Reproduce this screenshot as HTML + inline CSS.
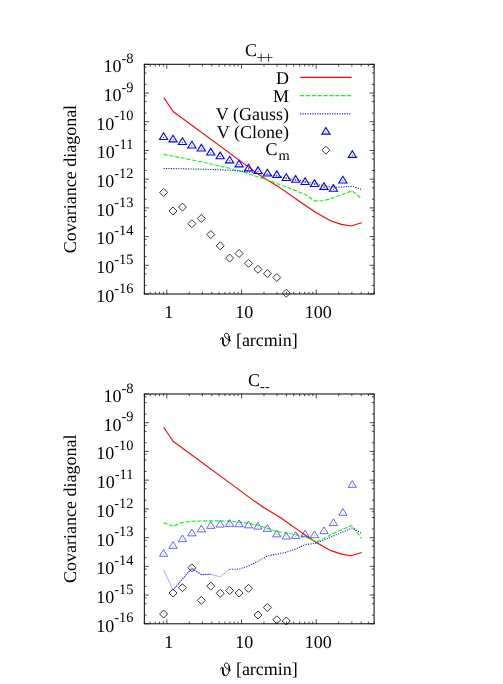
<!DOCTYPE html>
<html><head><meta charset="utf-8"><title>Covariance diagonal</title>
<style>html,body{margin:0;padding:0;background:#fff}svg{display:block;will-change:transform}text{text-rendering:geometricPrecision;font-family:"Liberation Serif",serif;font-size:18px;fill:#000}</style></head>
<body>
<svg width="503" height="684" viewBox="0 0 503 684">
<rect width="503" height="684" fill="#fff"/>
<g>
<path d="M163.7 97.5L173.1 111.5L230 153.4L255 171.9L264.5 178.3L279.9 187.6L300 201.7L304.7 205L315.9 212.5L329.6 220.3L331.8 221.2L341.4 224.4L350.9 226L361.7 222.8" fill="none" stroke="#ff0000" stroke-width="1.15" stroke-linejoin="round"/>
<path d="M163.6 154.4L173.03 156.2L182.47 158L191.91 159.9L201.34 161.9L210.78 164L220.21 166.1L229.64 168.3L239.08 170.8L248.51 173.8L257.95 176.9L267.38 179.9L276.82 183.5L286.25 187L295.69 190.6L305.12 194.4L314.56 200.9L324 200.7L333.43 197.8L342.87 194.2L352.3 190.8L361.74 198.8" fill="none" stroke="#00ff00" stroke-width="1.15" stroke-dasharray="3.9 1.95"/>
<path d="M163.6 168.5L173.03 168.6L182.47 168.8L191.91 169L201.34 169.2L210.78 169.5L220.21 169.8L229.64 170.3L239.08 171L248.51 172L257.95 173.4L267.38 174.8L276.82 176.2L286.25 178L295.69 179.8L305.12 181.5L314.56 183.5L324 186L333.43 187.3L342.87 187L352.3 186.2L361.74 189.5" fill="none" stroke="#0000ff" stroke-width="1.1" stroke-dasharray="1.05 1.4"/>
<path d="M163.6 132.81l-4.1 6.64h8.2z" fill="none" stroke="#0000ff" stroke-width="1.1"/><rect x="163.1" y="136.9" width="1.0" height="1.0" fill="#0000ff"/>
<path d="M173.03 135.21l-4.1 6.64h8.2z" fill="none" stroke="#0000ff" stroke-width="1.1"/><rect x="172.53" y="139.3" width="1.0" height="1.0" fill="#0000ff"/>
<path d="M182.47 137.81l-4.1 6.64h8.2z" fill="none" stroke="#0000ff" stroke-width="1.1"/><rect x="181.97" y="141.9" width="1.0" height="1.0" fill="#0000ff"/>
<path d="M191.91 141.31l-4.1 6.64h8.2z" fill="none" stroke="#0000ff" stroke-width="1.1"/><rect x="191.41" y="145.4" width="1.0" height="1.0" fill="#0000ff"/>
<path d="M201.34 144.41l-4.1 6.64h8.2z" fill="none" stroke="#0000ff" stroke-width="1.1"/><rect x="200.84" y="148.5" width="1.0" height="1.0" fill="#0000ff"/>
<path d="M210.78 148.41l-4.1 6.64h8.2z" fill="none" stroke="#0000ff" stroke-width="1.1"/><rect x="210.28" y="152.5" width="1.0" height="1.0" fill="#0000ff"/>
<path d="M220.21 152.11l-4.1 6.64h8.2z" fill="none" stroke="#0000ff" stroke-width="1.1"/><rect x="219.71" y="156.2" width="1.0" height="1.0" fill="#0000ff"/>
<path d="M229.64 156.21l-4.1 6.64h8.2z" fill="none" stroke="#0000ff" stroke-width="1.1"/><rect x="229.14" y="160.3" width="1.0" height="1.0" fill="#0000ff"/>
<path d="M239.08 160.21l-4.1 6.64h8.2z" fill="none" stroke="#0000ff" stroke-width="1.1"/><rect x="238.58" y="164.3" width="1.0" height="1.0" fill="#0000ff"/>
<path d="M248.51 164.21l-4.1 6.64h8.2z" fill="none" stroke="#0000ff" stroke-width="1.1"/><rect x="248.01" y="168.3" width="1.0" height="1.0" fill="#0000ff"/>
<path d="M257.95 166.91l-4.1 6.64h8.2z" fill="none" stroke="#0000ff" stroke-width="1.1"/><rect x="257.45" y="171" width="1.0" height="1.0" fill="#0000ff"/>
<path d="M267.38 169.31l-4.1 6.64h8.2z" fill="none" stroke="#0000ff" stroke-width="1.1"/><rect x="266.88" y="173.4" width="1.0" height="1.0" fill="#0000ff"/>
<path d="M276.82 170.91l-4.1 6.64h8.2z" fill="none" stroke="#0000ff" stroke-width="1.1"/><rect x="276.32" y="175" width="1.0" height="1.0" fill="#0000ff"/>
<path d="M286.25 173.81l-4.1 6.64h8.2z" fill="none" stroke="#0000ff" stroke-width="1.1"/><rect x="285.75" y="177.9" width="1.0" height="1.0" fill="#0000ff"/>
<path d="M295.69 175.61l-4.1 6.64h8.2z" fill="none" stroke="#0000ff" stroke-width="1.1"/><rect x="295.19" y="179.7" width="1.0" height="1.0" fill="#0000ff"/>
<path d="M305.12 177.81l-4.1 6.64h8.2z" fill="none" stroke="#0000ff" stroke-width="1.1"/><rect x="304.62" y="181.9" width="1.0" height="1.0" fill="#0000ff"/>
<path d="M314.56 179.91l-4.1 6.64h8.2z" fill="none" stroke="#0000ff" stroke-width="1.1"/><rect x="314.06" y="184" width="1.0" height="1.0" fill="#0000ff"/>
<path d="M324 182.71l-4.1 6.64h8.2z" fill="none" stroke="#0000ff" stroke-width="1.1"/><rect x="323.5" y="186.8" width="1.0" height="1.0" fill="#0000ff"/>
<path d="M333.43 184.66l-4.1 6.64h8.2z" fill="none" stroke="#0000ff" stroke-width="1.1"/><rect x="332.93" y="188.75" width="1.0" height="1.0" fill="#0000ff"/>
<path d="M342.87 176.31l-4.1 6.64h8.2z" fill="none" stroke="#0000ff" stroke-width="1.1"/><rect x="342.37" y="180.4" width="1.0" height="1.0" fill="#0000ff"/>
<path d="M352.3 150.71l-4.1 6.64h8.2z" fill="none" stroke="#0000ff" stroke-width="1.1"/><rect x="351.8" y="154.8" width="1.0" height="1.0" fill="#0000ff"/>
<path d="M163.6 188.4l-4 4l4 4l4 -4z" fill="none" stroke="#333" stroke-width="1.0"/><rect x="163.3" y="192.1" width="0.6" height="0.6" fill="#333" opacity="0.6"/>
<path d="M173.03 207l-4 4l4 4l4 -4z" fill="none" stroke="#333" stroke-width="1.0"/><rect x="172.73" y="210.7" width="0.6" height="0.6" fill="#333" opacity="0.6"/>
<path d="M182.47 203.1l-4 4l4 4l4 -4z" fill="none" stroke="#333" stroke-width="1.0"/><rect x="182.17" y="206.8" width="0.6" height="0.6" fill="#333" opacity="0.6"/>
<path d="M191.91 219.7l-4 4l4 4l4 -4z" fill="none" stroke="#333" stroke-width="1.0"/><rect x="191.6" y="223.4" width="0.6" height="0.6" fill="#333" opacity="0.6"/>
<path d="M201.34 214.5l-4 4l4 4l4 -4z" fill="none" stroke="#333" stroke-width="1.0"/><rect x="201.04" y="218.2" width="0.6" height="0.6" fill="#333" opacity="0.6"/>
<path d="M210.78 230.6l-4 4l4 4l4 -4z" fill="none" stroke="#333" stroke-width="1.0"/><rect x="210.47" y="234.3" width="0.6" height="0.6" fill="#333" opacity="0.6"/>
<path d="M220.21 241.8l-4 4l4 4l4 -4z" fill="none" stroke="#333" stroke-width="1.0"/><rect x="219.91" y="245.5" width="0.6" height="0.6" fill="#333" opacity="0.6"/>
<path d="M229.64 254.1l-4 4l4 4l4 -4z" fill="none" stroke="#333" stroke-width="1.0"/><rect x="229.34" y="257.8" width="0.6" height="0.6" fill="#333" opacity="0.6"/>
<path d="M239.08 249.5l-4 4l4 4l4 -4z" fill="none" stroke="#333" stroke-width="1.0"/><rect x="238.78" y="253.2" width="0.6" height="0.6" fill="#333" opacity="0.6"/>
<path d="M248.51 259.3l-4 4l4 4l4 -4z" fill="none" stroke="#333" stroke-width="1.0"/><rect x="248.21" y="263" width="0.6" height="0.6" fill="#333" opacity="0.6"/>
<path d="M257.95 265.3l-4 4l4 4l4 -4z" fill="none" stroke="#333" stroke-width="1.0"/><rect x="257.65" y="269" width="0.6" height="0.6" fill="#333" opacity="0.6"/>
<path d="M267.38 269.6l-4 4l4 4l4 -4z" fill="none" stroke="#333" stroke-width="1.0"/><rect x="267.08" y="273.3" width="0.6" height="0.6" fill="#333" opacity="0.6"/>
<path d="M276.82 273.5l-4 4l4 4l4 -4z" fill="none" stroke="#333" stroke-width="1.0"/><rect x="276.52" y="277.2" width="0.6" height="0.6" fill="#333" opacity="0.6"/>
<path d="M286.25 289.2l-4 4l4 4l4 -4z" fill="none" stroke="#333" stroke-width="1.0"/><rect x="285.95" y="292.9" width="0.6" height="0.6" fill="#333" opacity="0.6"/>
<path d="M300.2 77.4L351.6 77.4" fill="none" stroke="#ff0000" stroke-width="1.15"/>
<path d="M300.2 95.6L351.6 95.6" fill="none" stroke="#00ff00" stroke-width="1.15" stroke-dasharray="3.9 1.95"/>
<path d="M300.2 113.9L351.6 113.9" fill="none" stroke="#0000ff" stroke-width="1.1" stroke-dasharray="1.05 1.4"/>
<path d="M325.9 127.51l-4.1 6.64h8.2z" fill="none" stroke="#0000ff" stroke-width="1.1"/><rect x="325.4" y="131.6" width="1.0" height="1.0" fill="#0000ff"/>
<path d="M325.9 146.2l-4 4l4 4l4 -4z" fill="none" stroke="#333" stroke-width="1.0"/><rect x="325.6" y="149.9" width="0.6" height="0.6" fill="#333" opacity="0.6"/>
<text x="288.9" y="83.7" text-anchor="end">D</text>
<text x="288.9" y="101.6" text-anchor="end">M</text>
<text x="288.9" y="119.9" text-anchor="end">V (Gauss)</text>
<text x="288.9" y="138.1" text-anchor="end">V (Clone)</text>
<text x="289.6" y="154.5" text-anchor="end">C<tspan dx="0.9" dy="5.2" font-size="14.4">m</tspan></text>
<text x="244.9" y="55.8">C<tspan dx="-0.3" dy="6.9" font-size="16.4" letter-spacing="-1.8">++</tspan></text>
<path d="M144.36 64.3h4.5M374.12 64.3h-4.5M144.36 84.37h2.25M374.12 84.37h-2.25M144.36 72.94h2.25M374.12 72.94h-2.25M144.36 67.08h2.25M374.12 67.08h-2.25M144.36 93.01h4.5M374.12 93.01h-4.5M144.36 113.08h2.25M374.12 113.08h-2.25M144.36 101.66h2.25M374.12 101.66h-2.25M144.36 95.8h2.25M374.12 95.8h-2.25M144.36 121.72h4.5M374.12 121.72h-4.5M144.36 141.79h2.25M374.12 141.79h-2.25M144.36 130.37h2.25M374.12 130.37h-2.25M144.36 124.51h2.25M374.12 124.51h-2.25M144.36 150.44h4.5M374.12 150.44h-4.5M144.36 170.51h2.25M374.12 170.51h-2.25M144.36 159.08h2.25M374.12 159.08h-2.25M144.36 153.22h2.25M374.12 153.22h-2.25M144.36 179.15h4.5M374.12 179.15h-4.5M144.36 199.22h2.25M374.12 199.22h-2.25M144.36 187.79h2.25M374.12 187.79h-2.25M144.36 181.93h2.25M374.12 181.93h-2.25M144.36 207.86h4.5M374.12 207.86h-4.5M144.36 227.93h2.25M374.12 227.93h-2.25M144.36 216.51h2.25M374.12 216.51h-2.25M144.36 210.65h2.25M374.12 210.65h-2.25M144.36 236.57h4.5M374.12 236.57h-4.5M144.36 256.64h2.25M374.12 256.64h-2.25M144.36 245.22h2.25M374.12 245.22h-2.25M144.36 239.36h2.25M374.12 239.36h-2.25M144.36 265.29h4.5M374.12 265.29h-4.5M144.36 285.36h2.25M374.12 285.36h-2.25M144.36 273.93h2.25M374.12 273.93h-2.25M144.36 268.07h2.25M374.12 268.07h-2.25M144.36 294h4.5M374.12 294h-4.5M144.31 294v-2.25M144.31 64.3v2.25M150.23 294v-2.25M150.23 64.3v2.25M155.23 294v-2.25M155.23 64.3v2.25M159.56 294v-2.25M159.56 64.3v2.25M163.38 294v-2.25M163.38 64.3v2.25M166.8 294v-4.5M166.8 64.3v4.5M189.29 294v-2.25M189.29 64.3v2.25M202.44 294v-2.25M202.44 64.3v2.25M211.77 294v-2.25M211.77 64.3v2.25M219.01 294v-2.25M219.01 64.3v2.25M224.93 294v-2.25M224.93 64.3v2.25M229.93 294v-2.25M229.93 64.3v2.25M234.26 294v-2.25M234.26 64.3v2.25M238.08 294v-2.25M238.08 64.3v2.25M241.5 294v-4.5M241.5 64.3v4.5M263.99 294v-2.25M263.99 64.3v2.25M277.14 294v-2.25M277.14 64.3v2.25M286.47 294v-2.25M286.47 64.3v2.25M293.71 294v-2.25M293.71 64.3v2.25M299.63 294v-2.25M299.63 64.3v2.25M304.63 294v-2.25M304.63 64.3v2.25M308.96 294v-2.25M308.96 64.3v2.25M312.78 294v-2.25M312.78 64.3v2.25M316.2 294v-4.5M316.2 64.3v4.5M338.69 294v-2.25M338.69 64.3v2.25M351.84 294v-2.25M351.84 64.3v2.25M361.17 294v-2.25M361.17 64.3v2.25M368.41 294v-2.25M368.41 64.3v2.25M374.33 294v-2.25M374.33 64.3v2.25" stroke="#000" stroke-width="0.7" fill="none"/>
<rect x="144.36" y="64.3" width="229.76" height="229.7" fill="none" stroke="#111" stroke-width="1.05"/>
<text x="133.4" y="72.2" text-anchor="end">10<tspan dy="-9.2" font-size="14.4">-8</tspan></text>
<text x="133.4" y="100.91" text-anchor="end">10<tspan dy="-9.2" font-size="14.4">-9</tspan></text>
<text x="133.4" y="129.62" text-anchor="end">10<tspan dy="-9.2" font-size="14.4">-10</tspan></text>
<text x="133.4" y="158.34" text-anchor="end">10<tspan dy="-9.2" font-size="14.4">-11</tspan></text>
<text x="133.4" y="187.05" text-anchor="end">10<tspan dy="-9.2" font-size="14.4">-12</tspan></text>
<text x="133.4" y="215.76" text-anchor="end">10<tspan dy="-9.2" font-size="14.4">-13</tspan></text>
<text x="133.4" y="244.47" text-anchor="end">10<tspan dy="-9.2" font-size="14.4">-14</tspan></text>
<text x="133.4" y="273.19" text-anchor="end">10<tspan dy="-9.2" font-size="14.4">-15</tspan></text>
<text x="133.4" y="301.9" text-anchor="end">10<tspan dy="-9.2" font-size="14.4">-16</tspan></text>
<text x="168.8" y="317.9" text-anchor="middle">1</text>
<text x="244.3" y="317.9" text-anchor="middle">10</text>
<text x="318.2" y="317.9" text-anchor="middle">100</text>
<text x="235.9" y="345.7">[arcmin]</text>
<g transform="translate(0 0)" fill="none" stroke="#000"><path d="M220.4 339.7C220.7 338.3 221.5 337.4 222.5 337.5C223.4 337.7 222.4 341 223.1 343.8C223.6 345.5 224.6 345.9 225.5 345.9C227.7 345.8 229.4 342.5 229.4 338.5C229.4 335.3 228.1 333.2 226.3 333.2C225 333.2 224.4 334.4 224.5 335.6C224.7 338.3 228 339.3 231 340.4" stroke-width="1"/><path d="M222.7 338C223 339.5 222.5 341.6 223.2 344C223.6 345.2 224.3 345.6 225 345.7" stroke-width="1.6"/><path d="M229.2 341.5C229.5 339.5 229.4 337.5 229.1 336" stroke-width="1.35"/></g>
<text transform="translate(75.6 179.1) rotate(-90)" text-anchor="middle" font-size="18.4">Covariance diagonal</text>
</g>
<g>
<path d="M163.7 427.2L173.1 441.2L230 483.1L255 501.6L264.5 508L279.9 517.3L300 531.4L304.7 534.7L315.9 542.2L329.6 550L331.8 550.9L341.4 554.1L350.9 555.7L361.7 552.5" fill="none" stroke="#ff0000" stroke-width="1.15" stroke-linejoin="round"/>
<path d="M163.6 522.8L173.1 526.2L182.6 522.4L192.1 521.3L201.7 521L211.2 520.8L220.4 520.9L229.5 521.1L239.1 522L248.4 523.3L257.7 525.2L267.2 528.2L276.6 531.5L286.2 533L295.5 534.6L305 536.8L316.5 541.9L323.8 538.4L333.3 533.6L342.7 529.2L351.8 525.5L361.5 538.4" fill="none" stroke="#00ff00" stroke-width="1.15" stroke-dasharray="3.9 1.95"/>
<path d="M163.6 569.7L173.03 590.1" fill="none" stroke="#3030ff" stroke-width="0.4"/>
<path d="M173.03 590.1L182.47 579L191.91 568.3L201.34 574.7L210.78 574.2" fill="none" stroke="#0000ff" stroke-width="1.1" stroke-dasharray="1.05 1.4"/>
<path d="M210.78 574.2L220.21 576.9L229.64 569.3" fill="none" stroke="#3030ff" stroke-width="0.4"/>
<path d="M229.64 569.3L239.08 569.2L248.51 566L257.95 561.2L267.38 556L276.82 554.1L286.25 552.2L295.69 549L305.12 544.6L314.56 543.5L324 540L333.43 536L342.87 532L352.3 528L361.74 533.6" fill="none" stroke="#0000ff" stroke-width="1.1" stroke-dasharray="1.05 1.4"/>
<path d="M173.03 590.1L182.47 579L191.91 568.3L201.34 574.7L210.78 574.2" fill="none" stroke="#3030ff" stroke-width="0.4"/>
<path d="M163.6 549.55l-4.15 6.72h8.3z" fill="none" stroke="#2222ff" stroke-width="0.7"/><rect x="163.3" y="553.9" width="0.6" height="0.6" fill="#2222ff"/>
<path d="M173.03 541.65l-4.15 6.72h8.3z" fill="none" stroke="#2222ff" stroke-width="0.7"/><rect x="172.73" y="546" width="0.6" height="0.6" fill="#2222ff"/>
<path d="M182.47 534.95l-4.15 6.72h8.3z" fill="none" stroke="#2222ff" stroke-width="0.7"/><rect x="182.17" y="539.3" width="0.6" height="0.6" fill="#2222ff"/>
<path d="M191.91 529.15l-4.15 6.72h8.3z" fill="none" stroke="#2222ff" stroke-width="0.7"/><rect x="191.6" y="533.5" width="0.6" height="0.6" fill="#2222ff"/>
<path d="M201.34 525.15l-4.15 6.72h8.3z" fill="none" stroke="#2222ff" stroke-width="0.7"/><rect x="201.04" y="529.5" width="0.6" height="0.6" fill="#2222ff"/>
<path d="M210.78 521.65l-4.15 6.72h8.3z" fill="none" stroke="#2222ff" stroke-width="0.7"/><rect x="210.47" y="526" width="0.6" height="0.6" fill="#2222ff"/>
<path d="M220.21 520.35l-4.15 6.72h8.3z" fill="none" stroke="#2222ff" stroke-width="0.7"/><rect x="219.91" y="524.7" width="0.6" height="0.6" fill="#2222ff"/>
<path d="M229.64 519.65l-4.15 6.72h8.3z" fill="none" stroke="#2222ff" stroke-width="0.7"/><rect x="229.34" y="524" width="0.6" height="0.6" fill="#2222ff"/>
<path d="M239.08 520.05l-4.15 6.72h8.3z" fill="none" stroke="#2222ff" stroke-width="0.7"/><rect x="238.78" y="524.4" width="0.6" height="0.6" fill="#2222ff"/>
<path d="M248.51 521.15l-4.15 6.72h8.3z" fill="none" stroke="#2222ff" stroke-width="0.7"/><rect x="248.21" y="525.5" width="0.6" height="0.6" fill="#2222ff"/>
<path d="M257.95 522.35l-4.15 6.72h8.3z" fill="none" stroke="#2222ff" stroke-width="0.7"/><rect x="257.65" y="526.7" width="0.6" height="0.6" fill="#2222ff"/>
<path d="M267.38 524.65l-4.15 6.72h8.3z" fill="none" stroke="#2222ff" stroke-width="0.7"/><rect x="267.08" y="529" width="0.6" height="0.6" fill="#2222ff"/>
<path d="M276.82 530.15l-4.15 6.72h8.3z" fill="none" stroke="#2222ff" stroke-width="0.7"/><rect x="276.52" y="534.5" width="0.6" height="0.6" fill="#2222ff"/>
<path d="M286.25 532.35l-4.15 6.72h8.3z" fill="none" stroke="#2222ff" stroke-width="0.7"/><rect x="285.95" y="536.7" width="0.6" height="0.6" fill="#2222ff"/>
<path d="M295.69 531.65l-4.15 6.72h8.3z" fill="none" stroke="#2222ff" stroke-width="0.7"/><rect x="295.39" y="536" width="0.6" height="0.6" fill="#2222ff"/>
<path d="M305.12 530.15l-4.15 6.72h8.3z" fill="none" stroke="#2222ff" stroke-width="0.7"/><rect x="304.82" y="534.5" width="0.6" height="0.6" fill="#2222ff"/>
<path d="M314.56 530.95l-4.15 6.72h8.3z" fill="none" stroke="#2222ff" stroke-width="0.7"/><rect x="314.26" y="535.3" width="0.6" height="0.6" fill="#2222ff"/>
<path d="M324 526.95l-4.15 6.72h8.3z" fill="none" stroke="#2222ff" stroke-width="0.7"/><rect x="323.69" y="531.3" width="0.6" height="0.6" fill="#2222ff"/>
<path d="M333.43 518.85l-4.15 6.72h8.3z" fill="none" stroke="#2222ff" stroke-width="0.7"/><rect x="333.13" y="523.2" width="0.6" height="0.6" fill="#2222ff"/>
<path d="M342.87 508.55l-4.15 6.72h8.3z" fill="none" stroke="#2222ff" stroke-width="0.7"/><rect x="342.56" y="512.9" width="0.6" height="0.6" fill="#2222ff"/>
<path d="M352.3 480.65l-4.15 6.72h8.3z" fill="none" stroke="#2222ff" stroke-width="0.7"/><rect x="352" y="485" width="0.6" height="0.6" fill="#2222ff"/>
<path d="M163.6 610l-4 4l4 4l4 -4z" fill="none" stroke="#333" stroke-width="1.0"/><rect x="163.3" y="613.7" width="0.6" height="0.6" fill="#333" opacity="0.6"/>
<path d="M173.03 589l-4 4l4 4l4 -4z" fill="none" stroke="#333" stroke-width="1.0"/><rect x="172.73" y="592.7" width="0.6" height="0.6" fill="#333" opacity="0.6"/>
<path d="M182.47 583.7l-4 4l4 4l4 -4z" fill="none" stroke="#333" stroke-width="1.0"/><rect x="182.17" y="587.4" width="0.6" height="0.6" fill="#333" opacity="0.6"/>
<path d="M191.91 563.8l-4 4l4 4l4 -4z" fill="none" stroke="#333" stroke-width="1.0"/><rect x="191.6" y="567.5" width="0.6" height="0.6" fill="#333" opacity="0.6"/>
<path d="M201.34 596.4l-4 4l4 4l4 -4z" fill="none" stroke="#333" stroke-width="1.0"/><rect x="201.04" y="600.1" width="0.6" height="0.6" fill="#333" opacity="0.6"/>
<path d="M210.78 582.1l-4 4l4 4l4 -4z" fill="none" stroke="#333" stroke-width="1.0"/><rect x="210.47" y="585.8" width="0.6" height="0.6" fill="#333" opacity="0.6"/>
<path d="M220.21 589.3l-4 4l4 4l4 -4z" fill="none" stroke="#333" stroke-width="1.0"/><rect x="219.91" y="593" width="0.6" height="0.6" fill="#333" opacity="0.6"/>
<path d="M229.64 586.6l-4 4l4 4l4 -4z" fill="none" stroke="#333" stroke-width="1.0"/><rect x="229.34" y="590.3" width="0.6" height="0.6" fill="#333" opacity="0.6"/>
<path d="M239.08 589l-4 4l4 4l4 -4z" fill="none" stroke="#333" stroke-width="1.0"/><rect x="238.78" y="592.7" width="0.6" height="0.6" fill="#333" opacity="0.6"/>
<path d="M248.51 584.3l-4 4l4 4l4 -4z" fill="none" stroke="#333" stroke-width="1.0"/><rect x="248.21" y="588" width="0.6" height="0.6" fill="#333" opacity="0.6"/>
<path d="M257.95 611l-4 4l4 4l4 -4z" fill="none" stroke="#333" stroke-width="1.0"/><rect x="257.65" y="614.7" width="0.6" height="0.6" fill="#333" opacity="0.6"/>
<path d="M267.38 603.5l-4 4l4 4l4 -4z" fill="none" stroke="#333" stroke-width="1.0"/><rect x="267.08" y="607.2" width="0.6" height="0.6" fill="#333" opacity="0.6"/>
<path d="M276.82 615.8l-4 4l4 4l4 -4z" fill="none" stroke="#333" stroke-width="1.0"/><rect x="276.52" y="619.5" width="0.6" height="0.6" fill="#333" opacity="0.6"/>
<path d="M286.25 617l-4 4l4 4l4 -4z" fill="none" stroke="#333" stroke-width="1.0"/><rect x="285.95" y="620.7" width="0.6" height="0.6" fill="#333" opacity="0.6"/>
<text x="258.9" y="385.6" text-anchor="middle">C<tspan dy="5.4" font-size="14.4">--</tspan></text>
<path d="M144.36 393.98h4.5M374.12 393.98h-4.5M144.36 414.06h2.25M374.12 414.06h-2.25M144.36 402.63h2.25M374.12 402.63h-2.25M144.36 396.76h2.25M374.12 396.76h-2.25M144.36 422.71h4.5M374.12 422.71h-4.5M144.36 442.78h2.25M374.12 442.78h-2.25M144.36 431.35h2.25M374.12 431.35h-2.25M144.36 425.49h2.25M374.12 425.49h-2.25M144.36 451.43h4.5M374.12 451.43h-4.5M144.36 471.51h2.25M374.12 471.51h-2.25M144.36 460.08h2.25M374.12 460.08h-2.25M144.36 454.21h2.25M374.12 454.21h-2.25M144.36 480.15h4.5M374.12 480.15h-4.5M144.36 500.23h2.25M374.12 500.23h-2.25M144.36 488.8h2.25M374.12 488.8h-2.25M144.36 482.94h2.25M374.12 482.94h-2.25M144.36 508.88h4.5M374.12 508.88h-4.5M144.36 528.96h2.25M374.12 528.96h-2.25M144.36 517.53h2.25M374.12 517.53h-2.25M144.36 511.66h2.25M374.12 511.66h-2.25M144.36 537.61h4.5M374.12 537.61h-4.5M144.36 557.68h2.25M374.12 557.68h-2.25M144.36 546.25h2.25M374.12 546.25h-2.25M144.36 540.39h2.25M374.12 540.39h-2.25M144.36 566.33h4.5M374.12 566.33h-4.5M144.36 586.41h2.25M374.12 586.41h-2.25M144.36 574.98h2.25M374.12 574.98h-2.25M144.36 569.11h2.25M374.12 569.11h-2.25M144.36 595.05h4.5M374.12 595.05h-4.5M144.36 615.13h2.25M374.12 615.13h-2.25M144.36 603.7h2.25M374.12 603.7h-2.25M144.36 597.84h2.25M374.12 597.84h-2.25M144.36 623.78h4.5M374.12 623.78h-4.5M144.31 623.78v-2.25M144.31 393.98v2.25M150.23 623.78v-2.25M150.23 393.98v2.25M155.23 623.78v-2.25M155.23 393.98v2.25M159.56 623.78v-2.25M159.56 393.98v2.25M163.38 623.78v-2.25M163.38 393.98v2.25M166.8 623.78v-4.5M166.8 393.98v4.5M189.29 623.78v-2.25M189.29 393.98v2.25M202.44 623.78v-2.25M202.44 393.98v2.25M211.77 623.78v-2.25M211.77 393.98v2.25M219.01 623.78v-2.25M219.01 393.98v2.25M224.93 623.78v-2.25M224.93 393.98v2.25M229.93 623.78v-2.25M229.93 393.98v2.25M234.26 623.78v-2.25M234.26 393.98v2.25M238.08 623.78v-2.25M238.08 393.98v2.25M241.5 623.78v-4.5M241.5 393.98v4.5M263.99 623.78v-2.25M263.99 393.98v2.25M277.14 623.78v-2.25M277.14 393.98v2.25M286.47 623.78v-2.25M286.47 393.98v2.25M293.71 623.78v-2.25M293.71 393.98v2.25M299.63 623.78v-2.25M299.63 393.98v2.25M304.63 623.78v-2.25M304.63 393.98v2.25M308.96 623.78v-2.25M308.96 393.98v2.25M312.78 623.78v-2.25M312.78 393.98v2.25M316.2 623.78v-4.5M316.2 393.98v4.5M338.69 623.78v-2.25M338.69 393.98v2.25M351.84 623.78v-2.25M351.84 393.98v2.25M361.17 623.78v-2.25M361.17 393.98v2.25M368.41 623.78v-2.25M368.41 393.98v2.25M374.33 623.78v-2.25M374.33 393.98v2.25" stroke="#000" stroke-width="0.7" fill="none"/>
<rect x="144.36" y="393.98" width="229.76" height="229.8" fill="none" stroke="#111" stroke-width="1.05"/>
<text x="133.4" y="401.88" text-anchor="end">10<tspan dy="-9.2" font-size="14.4">-8</tspan></text>
<text x="133.4" y="430.61" text-anchor="end">10<tspan dy="-9.2" font-size="14.4">-9</tspan></text>
<text x="133.4" y="459.33" text-anchor="end">10<tspan dy="-9.2" font-size="14.4">-10</tspan></text>
<text x="133.4" y="488.05" text-anchor="end">10<tspan dy="-9.2" font-size="14.4">-11</tspan></text>
<text x="133.4" y="516.78" text-anchor="end">10<tspan dy="-9.2" font-size="14.4">-12</tspan></text>
<text x="133.4" y="545.5" text-anchor="end">10<tspan dy="-9.2" font-size="14.4">-13</tspan></text>
<text x="133.4" y="574.23" text-anchor="end">10<tspan dy="-9.2" font-size="14.4">-14</tspan></text>
<text x="133.4" y="602.95" text-anchor="end">10<tspan dy="-9.2" font-size="14.4">-15</tspan></text>
<text x="133.4" y="631.68" text-anchor="end">10<tspan dy="-9.2" font-size="14.4">-16</tspan></text>
<text x="168.8" y="647.68" text-anchor="middle">1</text>
<text x="244.3" y="647.68" text-anchor="middle">10</text>
<text x="318.2" y="647.68" text-anchor="middle">100</text>
<text x="235.9" y="675.48">[arcmin]</text>
<g transform="translate(0 329.78)" fill="none" stroke="#000"><path d="M220.4 339.7C220.7 338.3 221.5 337.4 222.5 337.5C223.4 337.7 222.4 341 223.1 343.8C223.6 345.5 224.6 345.9 225.5 345.9C227.7 345.8 229.4 342.5 229.4 338.5C229.4 335.3 228.1 333.2 226.3 333.2C225 333.2 224.4 334.4 224.5 335.6C224.7 338.3 228 339.3 231 340.4" stroke-width="1"/><path d="M222.7 338C223 339.5 222.5 341.6 223.2 344C223.6 345.2 224.3 345.6 225 345.7" stroke-width="1.6"/><path d="M229.2 341.5C229.5 339.5 229.4 337.5 229.1 336" stroke-width="1.35"/></g>
<text transform="translate(75.6 508.78) rotate(-90)" text-anchor="middle" font-size="18.4">Covariance diagonal</text>
</g>
</svg>
</body></html>
